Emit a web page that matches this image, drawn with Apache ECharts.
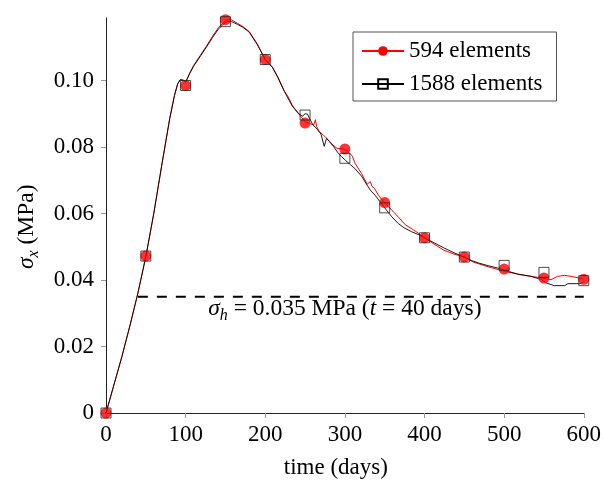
<!DOCTYPE html>
<html>
<head>
<meta charset="utf-8">
<script src="https://cdn.jsdelivr.net/npm/echarts@6/dist/echarts.min.js"></script>
<style>
html, body { margin: 0; padding: 0; background: #fff; }
#chart { width: 604px; height: 484px; }
</style>
</head>
<body>
<div id="chart"></div>
<script>
const FONT = 'Liberation Serif';

// Stress history, 594-element mesh
const coarseTime = [0, 10, 20, 30, 40, 50, 60, 70, 80, 86, 90, 93, 97, 100, 105, 110, 118, 126, 134, 141, 148, 153, 158, 165, 172, 180, 190, 200,
  209, 216, 224, 229, 234, 238, 243, 250, 256, 261, 263, 264.5, 268, 273, 278, 282, 290, 297, 303, 309, 313, 321, 328, 332, 334, 337, 342, 349,
  355, 361, 368, 376, 386, 388, 394, 400, 412, 424, 437, 450, 462, 468, 474, 484, 493, 505, 520, 534, 547, 559, 567, 576, 584, 594, 600];
const coarseStress = [0, 0.0085, 0.0170, 0.0262, 0.0360, 0.0470, 0.0600, 0.0745, 0.0885, 0.0955, 0.0990, 0.1002, 0.1001, 0.0995, 0.1022, 0.1045,
  0.1074, 0.1103, 0.1134, 0.1158, 0.1176, 0.1184, 0.1182, 0.1172, 0.1162, 0.1147, 0.1110, 0.1063,
  0.1040, 0.1010, 0.0968, 0.0950, 0.0925, 0.0912, 0.0897, 0.0876, 0.0870, 0.0867, 0.0882, 0.0862, 0.0846, 0.0836, 0.0824, 0.0812, 0.0796,
  0.0795, 0.0788, 0.0774, 0.0750, 0.0720, 0.0688, 0.0696, 0.0682, 0.0676, 0.0656, 0.0634, 0.0620, 0.0605, 0.0587, 0.0566, 0.0551, 0.0553,
  0.0538, 0.0527, 0.0508, 0.0490, 0.0478, 0.0469, 0.0453, 0.0449, 0.0444, 0.0437, 0.0431, 0.0424, 0.0416, 0.0411, 0.0406, 0.0401, 0.0411,
  0.0414, 0.0411, 0.0406, 0.0403];

// Stress history, 1588-element mesh
const fineTime = [0, 10, 20, 30, 40, 50, 60, 70, 80, 86, 90, 93, 97, 100, 105, 110, 118, 126, 134, 141, 148, 153, 158, 165, 172, 180, 190, 200,
  209, 216, 224, 234, 242, 247, 250, 253, 256, 260, 265, 270, 274, 277, 281, 286, 292, 296, 301, 307, 313, 321, 328, 332, 338, 349, 359,
  367, 375, 384, 393, 400, 412, 424, 437, 450, 460, 468, 480, 492, 505, 517, 534, 547, 553, 563, 576, 580, 595, 600];
const fineStress = [0, 0.0085, 0.0170, 0.0262, 0.0360, 0.0470, 0.0600, 0.0745, 0.0885, 0.0955, 0.0990, 0.1002, 0.1001, 0.0995, 0.1020, 0.1043,
  0.1071, 0.1100, 0.1130, 0.1154, 0.1171, 0.1178, 0.1177, 0.1169, 0.1160, 0.1145, 0.1108, 0.1063,
  0.1040, 0.1008, 0.0967, 0.0923, 0.0900, 0.0893, 0.0900, 0.0899, 0.0884, 0.0866, 0.0854, 0.0839, 0.0802, 0.0826, 0.0816, 0.0801, 0.0780,
  0.0771, 0.0759, 0.0747, 0.0734, 0.0712, 0.0685, 0.0670, 0.0655, 0.0620, 0.0590, 0.0570, 0.0556, 0.0545, 0.0536, 0.0527, 0.0512, 0.0497,
  0.0482, 0.0469, 0.0458, 0.0451, 0.0443, 0.0436, 0.0426, 0.0418, 0.0411, 0.0401, 0.0391, 0.0383, 0.0383, 0.0389, 0.0389, 0.0395];

// Marker samples every 50 days
const markTime = [0, 50, 100, 150, 200, 250, 300, 350, 400, 450, 500, 550, 600];
const coarseMarks = [0, 0.0472, 0.0985, 0.1183, 0.1063, 0.0872, 0.0794, 0.0633, 0.0527, 0.0469, 0.0433, 0.0406, 0.0402];
const fineMarks = [0, 0.0472, 0.0985, 0.1177, 0.1063, 0.0896, 0.0766, 0.0617, 0.0527, 0.0469, 0.0444, 0.0423, 0.0398];

// Horizontal stress level
const sigmaH = 0.035;
const sigmaHStart = 40;
const sigmaHEnd = 600;

const seriesNames = ['594 elements', '1588 elements'];
const xTicks = [0, 100, 200, 300, 400, 500, 600];
const yTicks = [0, 0.02, 0.04, 0.06, 0.08, 0.10];
const yTickLabels = ['0', '0.02', '0.04', '0.06', '0.08', '0.10'];

const zip = (a, b) => a.map((v, i) => [v, b[i]]);

const chart = echarts.init(document.getElementById('chart'), null, { renderer: 'canvas' });

const tickStyle = { color: '#999', width: 1 };
const labelStyle = { fontFamily: FONT, fontSize: 23, color: '#000' };

const xBase = { type: 'value', min: 0, max: 600, interval: 100, splitLine: { show: false } };
const yBase = { type: 'value', min: 0, max: 0.1188, splitLine: { show: false } };

chart.setOption({
  animation: false,
  backgroundColor: '#fff',
  grid: { left: 106, right: 19, top: 18, bottom: 68, containLabel: false },
  xAxis: [
    Object.assign({}, xBase, {
      name: 'time (days)',
      nameLocation: 'middle',
      nameGap: 43,
      nameTextStyle: { fontFamily: FONT, fontSize: 23, color: '#000', padding: [0, 18, 0, 0] },
      axisLine: { show: true, lineStyle: { color: '#222', width: 1 } },
      axisTick: { show: true, length: 5, lineStyle: tickStyle, customValues: xTicks },
      axisLabel: Object.assign({ margin: 10, customValues: xTicks }, labelStyle)
    }),
    Object.assign({}, xBase, {
      axisLine: { show: false },
      axisTick: { show: true, inside: true, length: 5, lineStyle: tickStyle, customValues: xTicks },
      axisLabel: { show: false }
    })
  ],
  yAxis: [
    Object.assign({}, yBase, {
      axisLine: { show: true, lineStyle: { color: '#222', width: 1 } },
      axisTick: { show: true, length: 5, lineStyle: tickStyle, customValues: yTicks },
      axisLabel: Object.assign({
        margin: 12,
        customValues: yTicks,
        formatter: (v) => {
          const i = yTicks.findIndex((t) => Math.abs(t - v) < 1e-9);
          return i >= 0 ? yTickLabels[i] : '';
        }
      }, labelStyle)
    }),
    Object.assign({}, yBase, {
      axisLine: { show: false },
      axisTick: { show: true, inside: true, length: 5, lineStyle: tickStyle, customValues: yTicks },
      axisLabel: { show: false }
    })
  ],
  legend: {
    data: seriesNames,
    orient: 'vertical',
    left: 353,
    top: 32,
    itemWidth: 42,
    itemHeight: 12,
    itemGap: 7,
    padding: [6, 14, 4, 8],
    borderColor: '#555',
    borderWidth: 1,
    selectedMode: false,
    textStyle: { fontFamily: FONT, fontSize: 23, color: '#000', lineHeight: 26 }
  },
  series: [
    {
      name: seriesNames[0],
      type: 'line',
      data: zip(coarseTime, coarseStress),
      showSymbol: false,
      symbol: 'circle',
      symbolSize: 10,
      lineStyle: { color: '#ff0000', width: 1 },
      itemStyle: { color: '#ff0000' },
      silent: true,
      z: 2
    },
    {
      name: seriesNames[1],
      type: 'line',
      data: zip(fineTime, fineStress),
      showSymbol: false,
      symbol: 'rect',
      symbolSize: 10,
      lineStyle: { color: '#000', width: 0.9 },
      itemStyle: { color: 'rgba(0,0,0,0)', borderColor: '#000', borderWidth: 1 },
      silent: true,
      z: 3
    },
    {
      name: 'coarseMarks',
      type: 'scatter',
      data: zip(markTime, coarseMarks),
      symbol: 'circle',
      symbolSize: 11,
      itemStyle: { color: '#ff0000' },
      silent: true,
      z: 4
    },
    {
      name: 'fineMarks',
      type: 'scatter',
      data: zip(markTime, fineMarks),
      symbol: 'rect',
      symbolSize: 10,
      itemStyle: { color: 'rgba(0,0,0,0)', borderColor: '#222', borderWidth: 1 },
      silent: true,
      z: 5
    },
    {
      name: 'sigmaH',
      type: 'line',
      data: [[sigmaHStart, sigmaH], [sigmaHEnd, sigmaH]],
      showSymbol: false,
      symbol: 'none',
      lineStyle: { color: '#000', width: 2, type: [10, 9] },
      silent: true,
      z: 1
    }
  ]
});

// Annotation below the dashed line and the rotated y-axis title
const anchor = chart.convertToPixel({ xAxisIndex: 0, yAxisIndex: 0 }, [300, sigmaH]);
const yMid = chart.convertToPixel({ xAxisIndex: 0, yAxisIndex: 0 }, [0, 0.056]);
const richStyle = {
  i: { fontFamily: FONT, fontSize: 23.5, fontStyle: 'italic', color: '#000', lineHeight: 30, verticalAlign: 'middle' },
  n: { fontFamily: FONT, fontSize: 23.5, color: '#000', lineHeight: 30, verticalAlign: 'middle' },
  sub: { fontFamily: FONT, fontSize: 16, fontStyle: 'italic', color: '#000', lineHeight: 14, verticalAlign: 'bottom' }
};
chart.setOption({
  graphic: [
    {
      type: 'text',
      x: anchor[0],
      y: anchor[1] + 12,
      silent: true,
      style: {
        text: '{i|σ}{sub|h}{n| = ' + sigmaH.toFixed(3) + ' MPa (}{i|t}{n| = ' + sigmaHStart + ' days)}',
        rich: richStyle,
        align: 'center',
        verticalAlign: 'middle'
      }
    },
    {
      type: 'text',
      x: 27,
      y: yMid[1],
      rotation: Math.PI / 2,
      silent: true,
      style: {
        text: '{i|σ}{sub|x}{n| (MPa)}',
        rich: richStyle,
        align: 'center',
        verticalAlign: 'middle'
      }
    }
  ]
});
</script>
</body>
</html>
